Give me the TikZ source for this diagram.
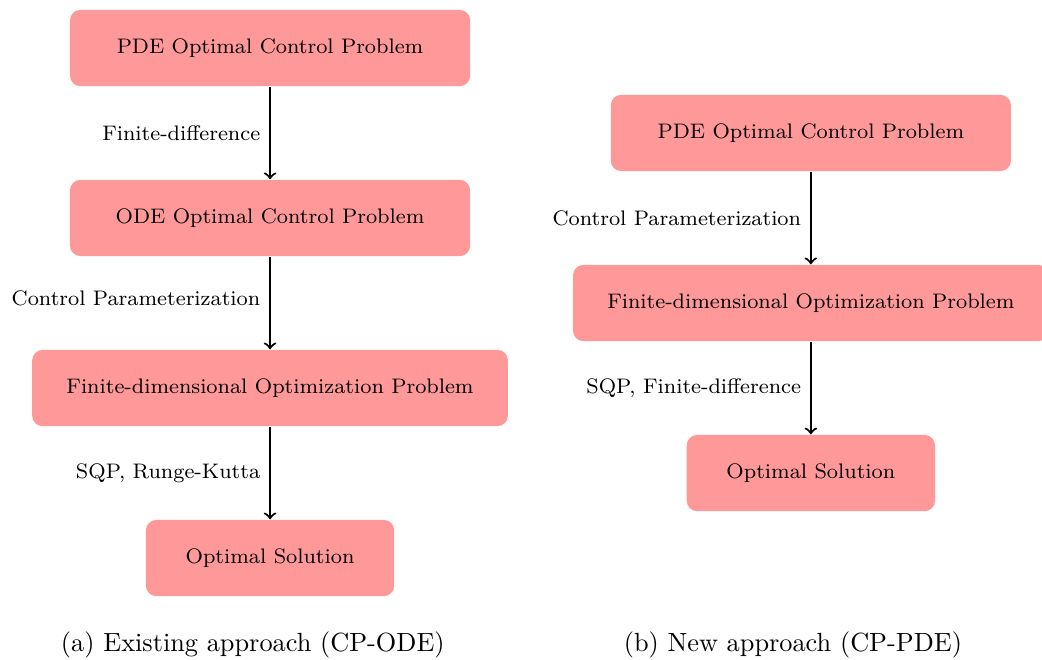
\documentclass[tikz,border=0pt]{standalone}
\usepackage{amsmath}
\tikzset{
	prob/.style={shape=rectangle, rounded corners, fill=red!40, minimum height=1.02cm, font=\footnotesize},
	step label/.style={font=\footnotesize},
}
\begin{document}
\begin{tikzpicture}
	\useasboundingbox (0,0) rectangle (13.93,-8.82);
	
	% existing approach
	\node[prob, minimum width=5.35cm] (pdeA) at (3.61,-0.642) {PDE Optimal Control Problem};
	\node[prob, minimum width=5.35cm] (odeA) at (3.61,-2.914) {ODE Optimal Control Problem};
	\node[prob, minimum width=6.36cm] (optA) at (3.61,-5.187) {Finite-dimensional Optimization Problem};
	\node[prob, minimum width=3.32cm] (solA) at (3.61,-7.460) {Optimal Solution};
	
	\path[->, thick] (pdeA) edge node[step label, left] {Finite-difference} (odeA);
	\path[->, thick] (odeA) edge node[step label, left, pos=0.45] {Control Parameterization} (optA);
	\path[->, thick] (optA) edge node[step label, left] {SQP, Runge-Kutta} (solA);
	
	% new approach
	\node[prob, minimum width=5.35cm] (pdeB) at (10.84,-1.778) {PDE Optimal Control Problem};
	\node[prob, minimum width=6.36cm] (optB) at (10.84,-4.051) {Finite-dimensional Optimization Problem};
	\node[prob, minimum width=3.32cm] (solB) at (10.84,-6.324) {Optimal Solution};
	
	\path[->, thick] (pdeB) edge node[step label, left] {Control Parameterization} (optB);
	\path[->, thick] (optB) edge node[step label, left] {SQP, Finite-difference} (solB);
	
	% captions
	\node (capA) at (3.38,-8.62) {(a) Existing approach (CP-ODE)};
	\node (capB) at (10.60,-8.62) {(b) New approach (CP-PDE)};
	
\end{tikzpicture}
\end{document}
